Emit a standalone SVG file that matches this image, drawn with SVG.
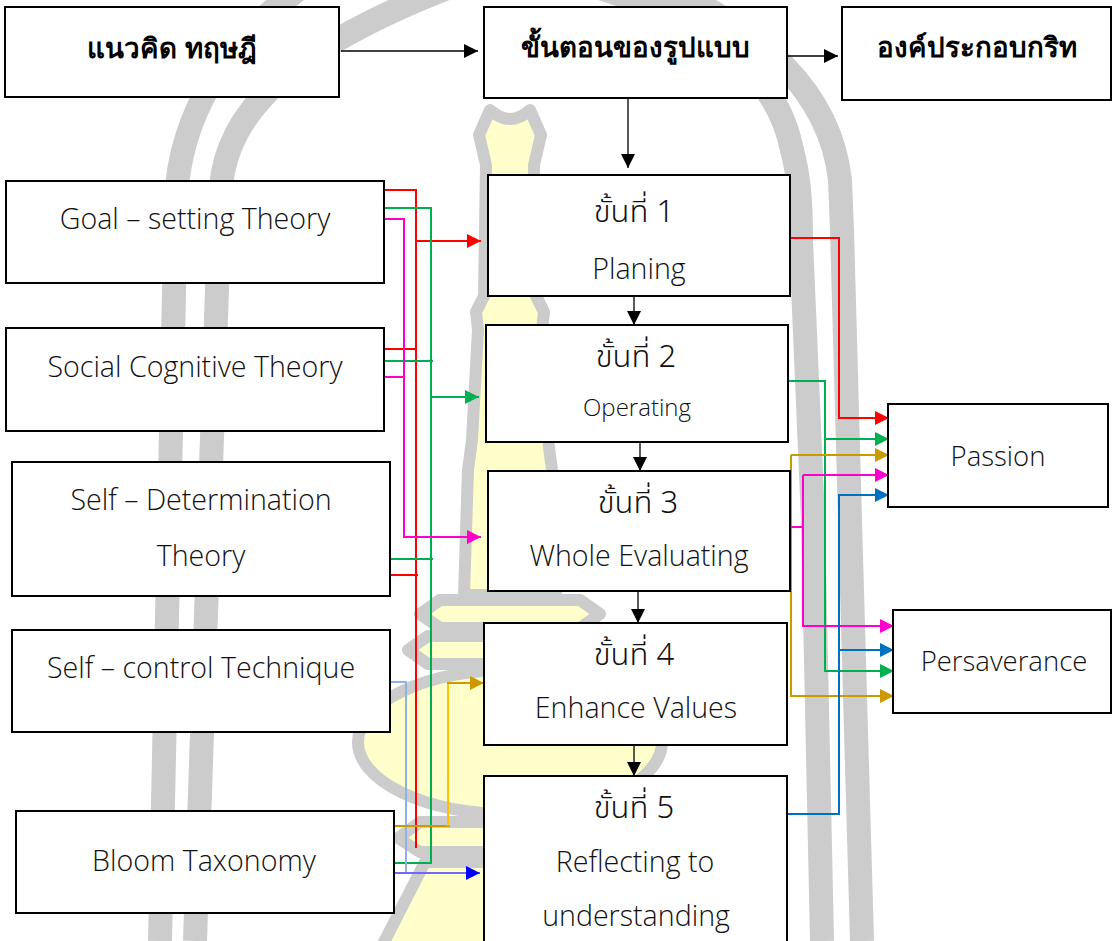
<svg xmlns="http://www.w3.org/2000/svg" width="1113" height="941" viewBox="0 0 1113 941">
  <style>
    .box { fill: #ffffff; stroke: #000000; stroke-width: 2; }
    .hd { font-family: "Noto Sans", sans-serif; font-weight: bold; font-size: 27.7px; text-anchor: middle; fill: #000; }
    .tx { font-family: "Open Sans", "Noto Sans", sans-serif; font-weight: 300; font-size: 28.6px; text-anchor: middle; fill: #111; }
    .th { font-family: "Noto Sans Thai", "Open Sans", "Noto Sans", sans-serif; font-weight: 300; font-size: 31px; text-anchor: middle; fill: #111; }
    .sm { font-size: 24px; }
    .md { font-size: 27.5px; }
    .arch { fill: none; stroke: #cccccc; stroke-width: 24; }
    .stupa { fill: #ffffcc; stroke: #cccccc; stroke-width: 12; stroke-linejoin: round; }
    .blk { fill: none; stroke: #000; stroke-width: 1.3; }
    .ln { fill: none; stroke-width: 2; }
  </style>
  <defs>
    <marker id="aBlack" viewBox="0 0 14 14" refX="14" refY="7" markerWidth="14" markerHeight="14" markerUnits="userSpaceOnUse" orient="auto"><path d="M0,0 L14,7 L0,14 z" fill="#000"/></marker>
    <marker id="aRed" viewBox="0 0 14 14" refX="14" refY="7" markerWidth="14" markerHeight="14" markerUnits="userSpaceOnUse" orient="auto"><path d="M0,0 L14,7 L0,14 z" fill="#ff0000"/></marker>
    <marker id="aGreen" viewBox="0 0 14 14" refX="14" refY="7" markerWidth="14" markerHeight="14" markerUnits="userSpaceOnUse" orient="auto"><path d="M0,0 L14,7 L0,14 z" fill="#00b050"/></marker>
    <marker id="aMag" viewBox="0 0 14 14" refX="14" refY="7" markerWidth="14" markerHeight="14" markerUnits="userSpaceOnUse" orient="auto"><path d="M0,0 L14,7 L0,14 z" fill="#ff00cc"/></marker>
    <marker id="aGold" viewBox="0 0 14 14" refX="14" refY="7" markerWidth="14" markerHeight="14" markerUnits="userSpaceOnUse" orient="auto"><path d="M0,0 L14,7 L0,14 z" fill="#cc9900"/></marker>
    <marker id="aBlue" viewBox="0 0 14 14" refX="14" refY="7" markerWidth="14" markerHeight="14" markerUnits="userSpaceOnUse" orient="auto"><path d="M0,0 L14,7 L0,14 z" fill="#0000ff"/></marker>
    <marker id="aSky" viewBox="0 0 14 14" refX="14" refY="7" markerWidth="14" markerHeight="14" markerUnits="userSpaceOnUse" orient="auto"><path d="M0,0 L14,7 L0,14 z" fill="#0070c0"/></marker>
  </defs>

  <!-- background emblem: arches and stupa -->
  <g id="emblem">
    <path class="arch" d="M160 941 L176 200 C180 110 230 40 300 -12"/>
    <path class="arch" d="M195 941 L220 200 C222 130 260 60 455 -15"/>
    <path class="arch" d="M600 -12 C700 20 775 65 792 150 C800 180 801 210 801 240 L813 520 L822 941"/>
    <path class="arch" d="M660 -15 C760 30 830 90 840 180 L842 230 L850 520 L862 941"/>
    <path class="stupa" d="M490 110 Q510 128 530 110 L541 135 L534 165 L536 296 L544 312 L542 330 L548 440 L552 470 L556 595 L464 595 L468 470 L472 440 L478 330 L476 312 L484 296 L486 165 L479 135 Z"/>
    <path class="stupa" d="M440 600 L580 600 L600 614 L580 628 L440 628 L420 614 Z"/>
    <path class="stupa" d="M428 636 L592 636 L612 650 L592 664 L428 664 L408 650 Z"/>
    <ellipse class="stupa" cx="510" cy="742" rx="152" ry="72"/>
    <path class="stupa" d="M420 822 L600 822 L622 838 L600 852 L420 852 L398 838 Z"/>
    <path class="stupa" d="M425 862 L595 862 L640 950 L380 950 Z"/>
  </g>

  <!-- connectors -->
  <g id="connectors">
    <!-- black flow arrows -->
    <path class="blk" d="M341 51 H478" marker-end="url(#aBlack)"/>
    <path class="blk" d="M787 56 H838" marker-end="url(#aBlack)"/>
    <path class="blk" d="M628 98 V168" marker-end="url(#aBlack)"/>
    <path class="blk" d="M634 297 V325" marker-end="url(#aBlack)"/>
    <path class="blk" d="M640 442 V471" marker-end="url(#aBlack)"/>
    <path class="blk" d="M638 592 V623" marker-end="url(#aBlack)"/>
    <path class="blk" d="M634 746 V776" marker-end="url(#aBlack)"/>

    <!-- theories to steps -->
    <path class="ln" stroke="#ff0000" d="M384 190 H416 V848"/>
    <path class="ln" stroke="#ff0000" d="M384 349 H416"/>
    <path class="ln" stroke="#ff0000" d="M390 575 H418"/>
    <path class="ln" stroke="#ff0000" d="M416 241 H481" marker-end="url(#aRed)"/>

    <path class="ln" stroke="#00b050" d="M384 208 H431 V863 H394"/>
    <path class="ln" stroke="#00b050" d="M384 361 H433"/>
    <path class="ln" stroke="#00b050" d="M390 559 H433"/>
    <path class="ln" stroke="#00b050" d="M431 397 H479" marker-end="url(#aGreen)"/>

    <path class="ln" stroke="#ff00cc" d="M384 377 H404"/>
    <path class="ln" stroke="#ff00cc" d="M384 219 H404 V537 H481" marker-end="url(#aMag)"/>

    <path class="ln" stroke="#8db3e2" d="M390 682 H406 V873"/>
    <path class="ln" stroke="#6b6bf5" stroke-width="1.3" d="M394 873 H480" marker-end="url(#aBlue)"/>

    <path class="ln" stroke="#cc9900" d="M394 826 H450"/>
    <path class="ln" stroke="#ffc000" d="M448 826 V683"/>
    <path class="ln" stroke="#cc9900" d="M447 683 H484" marker-end="url(#aGold)"/>

    <!-- steps to components -->
    <path class="ln" stroke="#ff0000" d="M790 238 H839 V418 H889" marker-end="url(#aRed)"/>
    <path class="ln" stroke="#00b050" d="M788 381 H825 V671 H894" marker-end="url(#aGreen)"/>
    <path class="ln" stroke="#00b050" d="M825 439 H889" marker-end="url(#aGreen)"/>
    <path class="ln" stroke="#cc9900" d="M791 455 H889" marker-end="url(#aGold)"/>
    <path class="ln" stroke="#cc9900" d="M791 455 V696 H894" marker-end="url(#aGold)"/>
    <path class="ln" stroke="#ff00cc" d="M790 527 H803"/>
    <path class="ln" stroke="#ff00cc" d="M803 475 H889" marker-end="url(#aMag)"/>
    <path class="ln" stroke="#ff00cc" d="M803 475 V626 H894" marker-end="url(#aMag)"/>
    <path class="ln" stroke="#0070c0" d="M787 814 H839 V495 H889" marker-end="url(#aSky)"/>
    <path class="ln" stroke="#0070c0" d="M839 650 H894" marker-end="url(#aSky)"/>
  </g>

  <!-- header row -->
  <g id="concept">
    <rect class="box" x="5" y="7" width="334" height="90"/>
    <text class="hd" x="172" y="58">แนวคิด ทฤษฎี</text>
  </g>
  <g id="procedure">
    <rect class="box" x="484" y="7" width="303" height="91"/>
    <text class="hd" x="635" y="57">ขั้นตอนของรูปแบบ</text>
  </g>
  <g id="components">
    <rect class="box" x="842" y="7" width="269" height="93"/>
    <text class="hd" x="977" y="57">องค์ประกอบกริท</text>
  </g>

  <!-- theories -->
  <g id="goal-setting">
    <rect class="box" x="6" y="181" width="378" height="102"/>
    <text class="tx" x="195" y="229">Goal – setting Theory</text>
  </g>
  <g id="social-cognitive">
    <rect class="box" x="6" y="328" width="378" height="103"/>
    <text class="tx" x="195" y="377">Social Cognitive Theory</text>
  </g>
  <g id="self-determination">
    <rect class="box" x="12" y="462" width="378" height="134"/>
    <text class="tx" x="201" y="510">Self – Determination</text>
    <text class="tx" x="201" y="566">Theory</text>
  </g>
  <g id="self-control">
    <rect class="box" x="12" y="630" width="378" height="102"/>
    <text class="tx" x="201" y="678">Self – control Technique</text>
  </g>
  <g id="bloom">
    <rect class="box" x="16" y="811" width="378" height="102"/>
    <text class="tx" x="204" y="871">Bloom Taxonomy</text>
  </g>

  <!-- steps -->
  <g id="step1">
    <rect class="box" x="488" y="175" width="302" height="121"/>
    <text class="th" x="634" y="222">ขั้นที่ 1</text>
    <text class="tx" x="639" y="279">Planing</text>
  </g>
  <g id="step2">
    <rect class="box" x="486" y="325" width="302" height="117"/>
    <text class="th" x="636" y="367">ขั้นที่ 2</text>
    <text class="tx sm" x="637" y="416">Operating</text>
  </g>
  <g id="step3">
    <rect class="box" x="488" y="471" width="302" height="120"/>
    <text class="th" x="638" y="513">ขั้นที่ 3</text>
    <text class="tx" x="639" y="566">Whole Evaluating</text>
  </g>
  <g id="step4">
    <rect class="box" x="484" y="623" width="303" height="122"/>
    <text class="th" x="634" y="665">ขั้นที่ 4</text>
    <text class="tx" x="636" y="718">Enhance Values</text>
  </g>
  <g id="step5">
    <rect class="box" x="484" y="776" width="303" height="200"/>
    <text class="th" x="634" y="818">ขั้นที่ 5</text>
    <text class="tx" x="635" y="872">Reflecting to</text>
    <text class="tx" x="636" y="926">understanding</text>
  </g>

  <!-- components -->
  <g id="passion">
    <rect class="box" x="888" y="404" width="220" height="103"/>
    <text class="tx md" x="998" y="466">Passion</text>
  </g>
  <g id="perseverance">
    <rect class="box" x="893" y="610" width="218" height="103"/>
    <text class="tx md" x="1004" y="671">Persaverance</text>
  </g>
</svg>
